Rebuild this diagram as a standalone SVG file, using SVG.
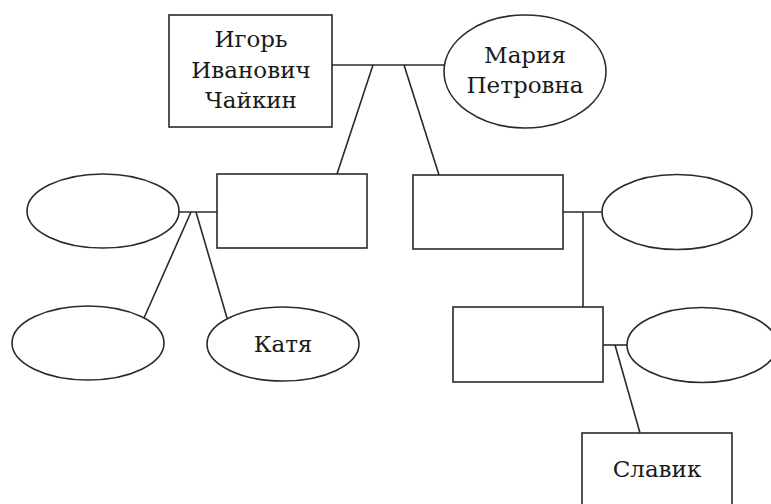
<svg xmlns="http://www.w3.org/2000/svg" width="771" height="504" viewBox="0 0 771 504">
<style>
.s{fill:#fff;stroke:#2a2a2a;stroke-width:1.6}
.c{stroke:#2a2a2a;stroke-width:1.6;fill:none}
.t{font-family:'DejaVu Serif','Liberation Serif',serif;font-size:23px;fill:#1a1a1a;text-anchor:middle}
</style>
<rect width="771" height="504" fill="#fff"/>
<g id="connectors">
<line class="c" x1="332" y1="65" x2="444" y2="65"/>
<line class="c" x1="373" y1="65" x2="337" y2="174"/>
<line class="c" x1="404" y1="65" x2="439" y2="175"/>
<line class="c" x1="178" y1="212" x2="217" y2="212"/>
<line class="c" x1="191" y1="212" x2="144" y2="318"/>
<line class="c" x1="196" y1="212" x2="227" y2="318"/>
<line class="c" x1="563" y1="212" x2="602" y2="212"/>
<line class="c" x1="583" y1="212" x2="583" y2="307"/>
<line class="c" x1="603" y1="345" x2="627" y2="345"/>
<line class="c" x1="615" y1="345" x2="640" y2="433"/>
</g>
<g id="igor">
<rect class="s" x="169" y="15" width="163" height="112"/>
<text class="t" x="251" y="47">Игорь</text>
<text class="t" x="251" y="78">Иванович</text>
<text class="t" x="251" y="108">Чайкин</text>
</g>
<g id="maria">
<ellipse class="s" cx="525" cy="71.5" rx="81" ry="56.5"/>
<text class="t" x="525" y="63">Мария</text>
<text class="t" x="525" y="93">Петровна</text>
</g>
<g id="child1">
<rect class="s" x="217" y="174" width="150" height="74"/>
</g>
<g id="child2">
<rect class="s" x="413" y="175" width="150" height="74"/>
</g>
<g id="spouse1">
<ellipse class="s" cx="103" cy="211" rx="76" ry="37"/>
</g>
<g id="spouse2">
<ellipse class="s" cx="677" cy="212" rx="75" ry="37.5"/>
</g>
<g id="grandchild1">
<ellipse class="s" cx="88" cy="343" rx="76" ry="37"/>
</g>
<g id="katya">
<ellipse class="s" cx="283" cy="344" rx="76" ry="37"/>
<text class="t" x="283" y="352">Катя</text>
</g>
<g id="grandchild2">
<rect class="s" x="453" y="307" width="150" height="75"/>
</g>
<g id="spouse3">
<ellipse class="s" cx="702" cy="345" rx="75" ry="37.5"/>
</g>
<g id="slavik">
<rect class="s" x="582" y="433" width="150" height="80"/>
<text class="t" x="657" y="477">Славик</text>
</g>
</svg>
